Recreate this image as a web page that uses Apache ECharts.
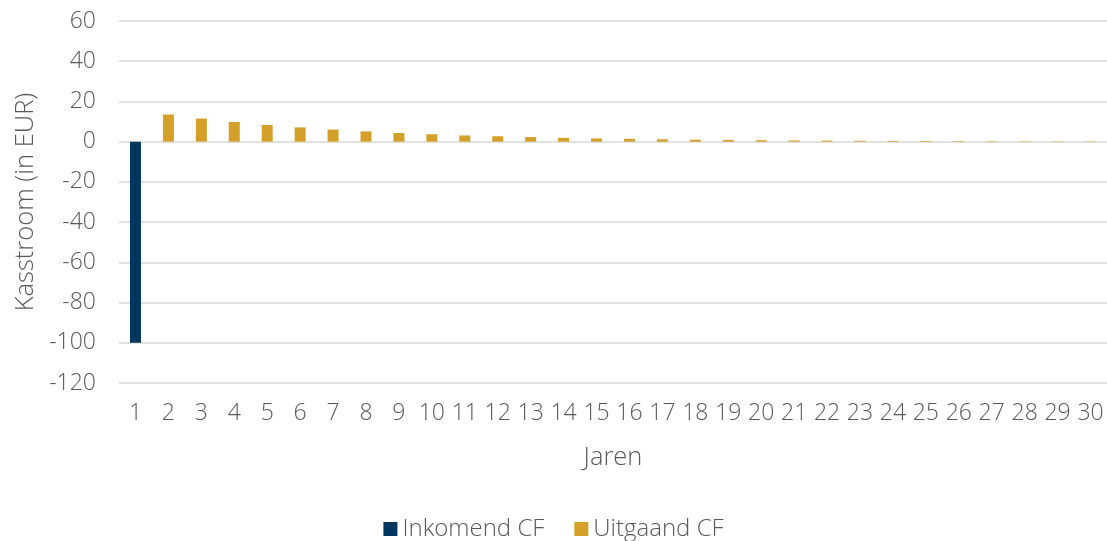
<!DOCTYPE html>
<html>
<head>
<meta charset="utf-8">
<script src="https://cdn.jsdelivr.net/npm/echarts@6/dist/echarts.min.js"></script>
<style>html,body{margin:0;padding:0;background:#fff}#c{width:1107px;height:541px}</style>
</head>
<body>
<div id="c"></div>
<script>
const categories = ['1','2','3','4','5','6','7','8','9','10','11','12','13','14','15','16','17','18','19','20','21','22','23','24','25','26','27','28','29','30'];
const inkomend = [-100,'-','-','-','-','-','-','-','-','-','-','-','-','-','-','-','-','-','-','-','-','-','-','-','-','-','-','-','-','-'];
const uitgaand = ['-',13.5,11.5,9.8,8.3,7.1,6.0,5.1,4.3,3.7,3.1,2.7,2.3,1.9,1.6,1.4,1.2,1.0,0.85,0.73,0.62,0.53,0.45,0.38,0.32,0.28,0.23,0.2,0.17,0.15];
const yTicks = {min:-120, max:60, interval:20};

const font = '"Open Sans", "Segoe UI", sans-serif';
const chart = echarts.init(document.getElementById('c'));
chart.setOption({
  animation:false,
  textStyle:{fontFamily:font},
  grid:{left:119, right:0, top:21, bottom:158, outerBoundsMode:'none', containLabel:false},
  legend:{
    bottom:-5, left:'center', itemWidth:14, itemHeight:14, itemGap:30,
    textStyle:{fontSize:24, color:'#595959', fontFamily:font, fontWeight:300},
    data:[{name:'Inkomend CF', icon:'rect'},{name:'Uitgaand CF', icon:'rect'}]
  },
  xAxis:{
    type:'category', data:categories,
    name:'Jaren', nameLocation:'middle', nameGap:62,
    nameTextStyle:{fontSize:25.5, color:'#595959', fontFamily:font, fontWeight:300},
    axisLine:{show:false}, axisTick:{show:false},
    axisLabel:{fontSize:23, color:'#595959', margin:19, interval:0, fontFamily:font, fontWeight:300}
  },
  yAxis:{
    type:'value', min:yTicks.min, max:yTicks.max, interval:yTicks.interval,
    name:'Kasstroom (in EUR)', nameLocation:'middle', nameGap:79,
    nameTextStyle:{fontSize:25.5, color:'#595959', fontFamily:font, fontWeight:300},
    axisLine:{show:false}, axisTick:{show:false},
    axisLabel:{fontSize:23, color:'#595959', margin:23, fontFamily:font, fontWeight:300},
    splitLine:{lineStyle:{color:'#d9d9d9', width:1.5}}
  },
  series:[
    {name:'Inkomend CF', type:'bar', stack:'cf', data:inkomend, barWidth:11, itemStyle:{color:'#003660'}},
    {name:'Uitgaand CF', type:'bar', stack:'cf', data:uitgaand, barWidth:11, itemStyle:{color:'#D4A029'}}
  ]
});
</script>
</body>
</html>
